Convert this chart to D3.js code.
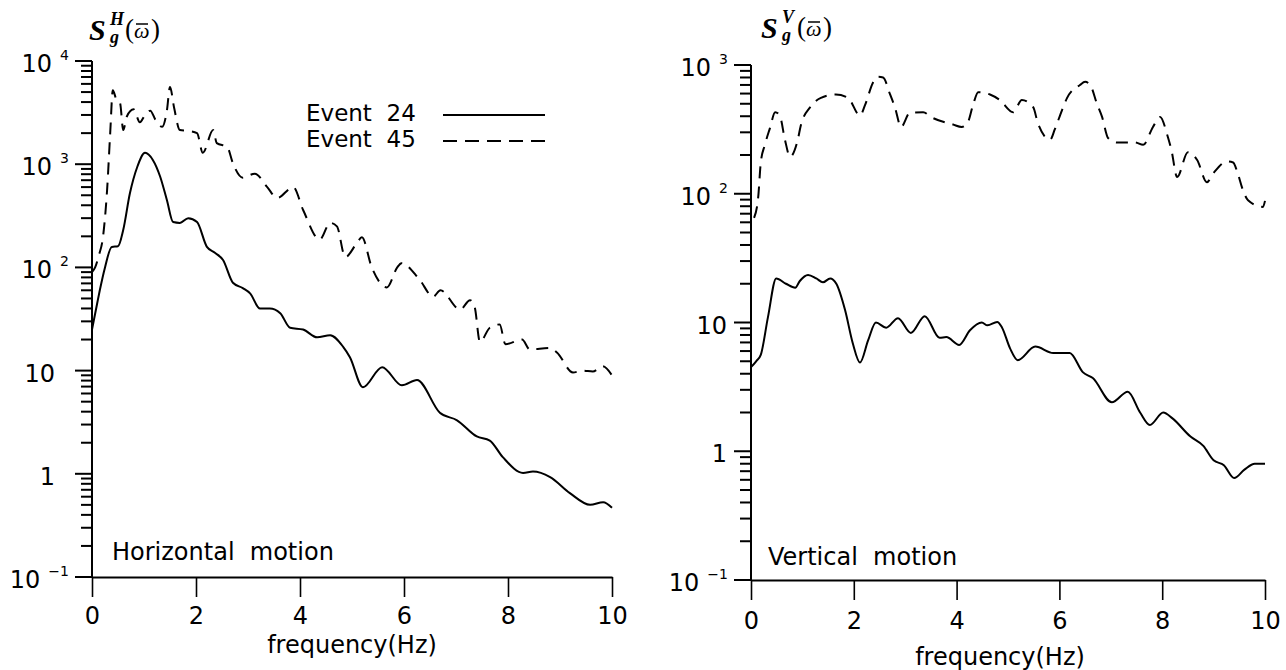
<!DOCTYPE html>
<html lang="en">
<head>
<meta charset="UTF-8">
<title>Ground motion spectra</title>
<script src="https://cdn.jsdelivr.net/npm/d3@7"></script>
<style>
  body { margin: 0; background: #fff; }
</style>
</head>
<body>
<script>
// [frequency (Hz), spectral density]
var horiz24 = [[0,25],[0.1,45],[0.15,60],[0.25,100],[0.38,158],[0.5,160],[0.6,230],[0.73,525],[0.87,940],
  [1.02,1290],[1.17,1100],[1.31,760],[1.44,450],[1.56,275],[1.69,270],[1.85,300],[2.02,275],[2.21,158],
  [2.37,138],[2.52,118],[2.71,71],[2.9,63],[3.04,56],[3.23,40],[3.42,40],[3.62,36],[3.81,26],[4.06,25],
  [4.33,21],[4.58,22],[4.83,17],[4.96,13.5],[5.21,6.9],[5.58,10.8],[5.96,7.2],[6.25,8.1],[6.69,3.9],
  [7.02,3.3],[7.4,2.3],[7.65,2.1],[7.9,1.45],[8.29,1.02],[8.48,1.05],[8.81,0.93],[9.19,0.65],[9.58,0.5],
  [9.83,0.53],[10,0.47]];
var horiz45 = [[0,90],[0.06,100],[0.13,130],[0.21,195],[0.29,560],[0.35,2000],[0.4,5200],[0.47,4200],
  [0.54,3900],[0.6,2140],[0.67,2900],[0.8,3400],[0.92,2550],[1.02,3000],[1.12,3300],[1.22,2700],[1.35,2300],
  [1.44,3300],[1.5,5600],[1.58,3500],[1.69,2140],[1.85,2100],[2.02,2000],[2.13,1290],[2.33,2140],[2.4,1600],
  [2.6,1470],[2.71,1020],[2.9,740],[3.13,810],[3.37,600],[3.56,470],[3.87,600],[4.06,360],[4.38,186],
  [4.58,270],[4.71,250],[4.87,126],[5.1,174],[5.19,196],[5.38,100],[5.67,64],[5.87,100],[5.95,110],
  [6.3,76],[6.56,52],[6.7,60],[7.08,39],[7.27,48],[7.36,41],[7.46,19],[7.65,26],[7.84,28],[7.95,18],
  [8.27,20],[8.42,16],[8.8,16.6],[8.94,15],[9.25,9.6],[9.44,10],[9.63,9.8],[9.82,11],[10,9]];
var vert24 = [[0,4.5],[0.1,5],[0.19,5.6],[0.33,11],[0.49,22],[0.68,20],[0.86,18.6],[0.95,21],[1.11,23.4],
  [1.27,22],[1.4,20.5],[1.54,22],[1.66,20],[1.83,12.5],[1.98,6.9],[2.12,4.9],[2.28,7.3],[2.43,10],
  [2.63,9.1],[2.86,10.8],[3.11,8.3],[3.38,11.2],[3.67,7.6],[3.8,7.7],[4.05,6.7],[4.26,8.7],[4.49,10],
  [4.6,9.5],[4.79,10.1],[4.88,9.2],[5.04,6.3],[5.19,5.1],[5.53,6.5],[5.88,5.8],[6.2,5.8],[6.46,4.1],
  [6.65,3.7],[7.02,2.4],[7.33,2.9],[7.57,2.0],[7.76,1.6],[8.02,2.0],[8.2,1.8],[8.55,1.3],[8.8,1.1],
  [9.0,0.85],[9.2,0.78],[9.4,0.62],[9.6,0.72],[9.8,0.8],[10,0.8]];
var vert45 = [[0.06,65],[0.14,94],[0.19,174],[0.27,240],[0.37,325],[0.47,430],[0.56,405],[0.66,263],
  [0.76,194],[0.91,263],[0.97,340],[1.15,470],[1.36,555],[1.65,590],[1.89,555],[2.12,405],[2.22,490],
  [2.37,725],[2.47,810],[2.57,800],[2.7,600],[2.8,470],[2.92,330],[3.09,425],[3.35,430],[3.5,395],
  [3.93,345],[4.1,330],[4.22,360],[4.32,490],[4.42,615],[4.65,590],[4.84,535],[5.1,430],[5.27,535],
  [5.49,470],[5.58,355],[5.82,263],[5.91,316],[6.05,445],[6.15,555],[6.4,700],[6.5,740],[6.6,700],
  [6.73,500],[6.83,395],[6.95,270],[7.12,250],[7.47,250],[7.63,240],[7.82,330],[7.96,395],[8.1,285],
  [8.18,218],[8.29,135],[8.5,210],[8.68,183],[8.87,123],[9.0,145],[9.26,178],[9.38,175],[9.46,148],
  [9.57,107],[9.67,89],[9.96,79],[10,88]];

var xTicks = [0, 2, 4, 6, 8, 10];
var hDomain = [0.1, 1e4];
var vDomain = [0.1, 1e3];
var legendNames = ["Event  24", "Event  45"];

var svg = d3.select("body").append("svg")
    .attr("width", 1286)
    .attr("height", 670)
    .style("font-family", "'DejaVu Sans', sans-serif");

var serif = "'Liberation Serif', 'DejaVu Serif', serif";
var yAxes = [];

function isMajor(v) {
    var e = Math.log10(v);
    return Math.abs(e - Math.round(e)) < 1e-6;
}

function drawTitle(tx, ty, sup) {
    var g = svg.append("g").style("font-family", serif);
    g.append("text").attr("x", tx).attr("y", ty).attr("font-size", 30)
        .style("font-style", "italic").style("font-weight", "bold").text("S");
    g.append("text").attr("x", tx + 21).attr("y", ty - 15).attr("font-size", 18)
        .style("font-style", "italic").style("font-weight", "bold").text(sup);
    g.append("text").attr("x", tx + 21).attr("y", ty + 3).attr("font-size", 18)
        .style("font-style", "italic").style("font-weight", "bold").text("g");
    g.append("text").attr("x", tx + 36).attr("y", ty - 2).attr("font-size", 27).text("(");
    g.append("text").attr("x", tx + 45).attr("y", ty - 2).attr("font-size", 22)
        .style("font-style", "italic").text("\u03c9");
    g.append("line").attr("x1", tx + 47).attr("x2", tx + 59)
        .attr("y1", ty - 16).attr("y2", ty - 16)
        .attr("stroke", "#000").attr("stroke-width", 1.5);
    g.append("text").attr("x", tx + 62).attr("y", ty - 2).attr("font-size", 27).text(")");
}

function drawPanel(p) {
    var x = d3.scaleLinear().domain([0, 10]).range([p.left, p.right]);
    var y = d3.scaleLog().domain(p.domain).range([p.bottom, p.top]);

    var line = d3.line()
        .x(function (d) { return x(d[0]); })
        .y(function (d) { return y(d[1]); })
        .curve(d3.curveMonotoneX);

    svg.append("path").datum(p.dashed)
        .attr("d", line).attr("fill", "none").attr("stroke", "#000")
        .attr("stroke-width", 2).attr("stroke-dasharray", "12,8");
    svg.append("path").datum(p.solid)
        .attr("d", line).attr("fill", "none").attr("stroke", "#000")
        .attr("stroke-width", 2);

    // y axis line
    svg.append("line")
        .attr("x1", p.left).attr("x2", p.left)
        .attr("y1", y(p.domain[0])).attr("y2", y(p.domain[1]))
        .attr("stroke", "#000").attr("stroke-width", 2);

    // decade labels
    y.ticks().filter(isMajor).forEach(function (v) {
        var e = Math.round(Math.log10(v));
        var t = svg.append("text")
            .attr("y", y(v) + 11)
            .attr("font-size", 24)
            .attr("text-anchor", "end");
        if (e === 0 || e === 1) {
            t.attr("x", p.left - p.plainOff).text(e === 0 ? "1" : "10");
        } else {
            t.attr("x", p.left - 23);
            t.append("tspan").text("10");
            t.append("tspan").attr("dx", 8).attr("dy", -12).attr("font-size", 14)
                .text(e < 0 ? "\u2212" + (-e) : String(e));
        }
    });

    // x axis
    var gx = svg.append("g").attr("transform", "translate(0," + p.bottom + ")")
        .call(d3.axisBottom(x).tickValues(xTicks).tickSize(20).tickSizeOuter(0).tickPadding(p.xPad));
    gx.attr("font-family", null).attr("font-size", null);
    gx.select(".domain").attr("stroke-width", 2);
    gx.selectAll(".tick line").attr("stroke-width", 1.6);
    gx.selectAll(".tick text").attr("font-size", 24);

    svg.append("text")
        .attr("x", (p.left + p.right) / 2 + p.freqDx)
        .attr("y", p.freqY)
        .attr("font-size", 24)
        .attr("text-anchor", "middle")
        .text("frequency(Hz)");

    svg.append("text")
        .attr("x", p.motionX)
        .attr("y", p.motionY)
        .attr("font-size", 24)
        .style("white-space", "pre")
        .text(p.motion);

    drawTitle(p.titleX, p.titleY, p.sup);
    yAxes.push({ left: p.left, y: y });
}

drawPanel({
    left: 92, right: 612, top: 61, bottom: 577, domain: hDomain,
    solid: horiz24, dashed: horiz45, sup: "H",
    motion: "Horizontal  motion", motionX: 112, motionY: 560,
    plainOff: 37, xPad: 10, freqY: 653, freqDx: 0, titleX: 89, titleY: 40
});
drawPanel({
    left: 751, right: 1265, top: 65, bottom: 580, domain: vDomain,
    solid: vert24, dashed: vert45, sup: "V",
    motion: "Vertical  motion", motionX: 768, motionY: 565,
    plainOff: 24, xPad: 12, freqY: 665, freqDx: -8, titleX: 761, titleY: 38
});

// legend (left panel)
var legend = svg.append("g");
legendNames.forEach(function (name, i) {
    var yy = 121 + i * 26;
    legend.append("text").attr("x", 306).attr("y", yy).attr("font-size", 23)
        .style("white-space", "pre").text(name);
    legend.append("line")
        .attr("x1", 443).attr("x2", 545)
        .attr("y1", yy - 6).attr("y2", yy - 6)
        .attr("stroke", "#000").attr("stroke-width", 2)
        .attr("stroke-dasharray", i === 0 ? null : "14,8");
});

// log ticks (1..9 per decade, decades longer), drawn last
yAxes.forEach(function (a, k) {
    svg.selectAll(".tk" + k).data(a.y.ticks()).enter().append("rect")
        .attr("class", "tk" + k)
        .attr("x", function (d) { return a.left - (isMajor(d) ? 17 : 11); })
        .attr("y", function (d) { return a.y(d) - 1; })
        .attr("width", function (d) { return isMajor(d) ? 17 : 11; })
        .attr("height", 2)
        .attr("fill", "#000");
});
</script>
</body>
</html>
